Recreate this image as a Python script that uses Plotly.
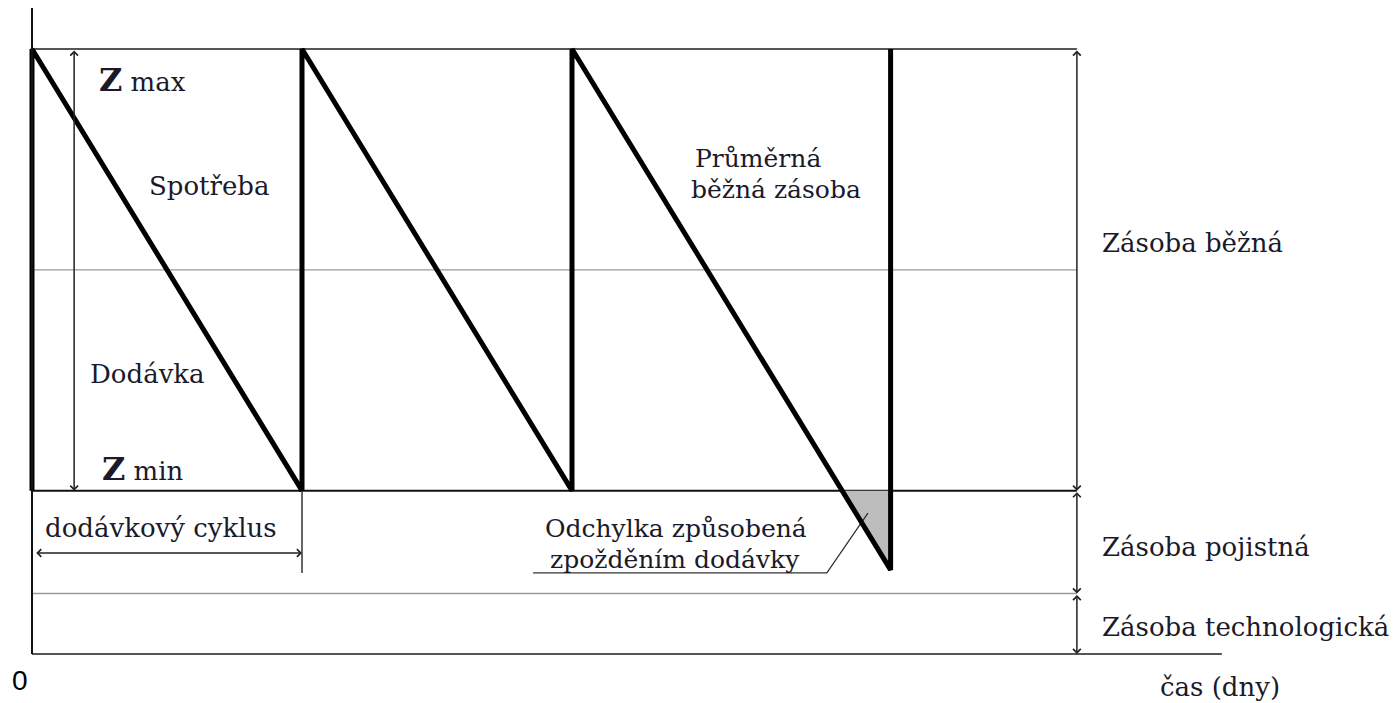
import plotly.graph_objects as go

# úrovně zásob (jednotky)
Z_TECH = 10
Z_MIN = 27
Z_AVG = 63.5
Z_MAX = 100

# pilový průběh zásoby: čas (dny) a stav zásoby
saw_t = [0, 0, 10, 10, 20, 20, 31.8, 31.8]
saw_z = [Z_MIN, Z_MAX, Z_MIN, Z_MAX, Z_MIN, Z_MAX, 13.9, Z_MAX]

# odchylka způsobená zpožděním dodávky
odch_t = [30, 31.8, 31.8, 30]
odch_z = [Z_MIN, Z_MIN, 13.9, Z_MIN]

# odkazová čára popisku odchylky
leader_t = [30.96, 29.44, 18.56]
leader_z = [23.3, 13.4, 13.4]

CYCLE_END = 10
RIGHT_T = 38.7
AXIS_END_T = 44.07
AXIS_TOP = 106.8

FONT = "DejaVu Serif"
TXT = "#1a1a2a"

fig = go.Figure()

# šedý trojúhelník odchylky
fig.add_trace(go.Scatter(x=odch_t, y=odch_z, mode="lines", fill="toself",
                         fillcolor="#bdbdbd", line=dict(width=0), hoverinfo="skip"))

# vodorovné čáry
hlines = [
    (Z_MAX, "#555555", 2),
    (Z_AVG, "#9a9a9a", 1.3),
    (Z_MIN, "#111111", 2),
    (Z_TECH, "#9a9a9a", 1.3),
]
for lvl, col, w in hlines:
    fig.add_shape(type="line", xref="x", yref="y", x0=0, x1=RIGHT_T, y0=lvl, y1=lvl,
                  line=dict(color=col, width=w), layer="below")

# osy
fig.add_shape(type="line", xref="x", yref="y", x0=0, x1=AXIS_END_T, y0=0, y1=0,
              line=dict(color="#555555", width=2))
fig.add_shape(type="line", xref="x", yref="y", x0=0, x1=0, y0=0, y1=AXIS_TOP,
              line=dict(color="#111111", width=2))

# konec dodávkového cyklu
fig.add_shape(type="line", xref="x", yref="y", x0=CYCLE_END, x1=CYCLE_END, y0=13.4, y1=Z_MIN,
              line=dict(color="#333333", width=1.5))

# odkazová čára
fig.add_trace(go.Scatter(x=leader_t, y=leader_z, mode="lines",
                         line=dict(color="#333333", width=1.3), hoverinfo="skip"))

# pilový průběh
fig.add_trace(go.Scatter(x=saw_t, y=saw_z, mode="lines",
                         line=dict(color="black", width=5), hoverinfo="skip"))


def arrow(x0, y0, x1, y1):
    fig.add_annotation(x=x1, y=y1, ax=x0, ay=y0, xref="x", yref="y", axref="x", ayref="y",
                       showarrow=True, arrowhead=4, startarrowhead=4, arrowside="end+start",
                       arrowsize=1, startarrowsize=1, arrowwidth=1.5, arrowcolor="#222222",
                       standoff=0, startstandoff=0, text="")


# šipky
arrow(1.56, Z_MAX, 1.56, Z_MIN)
arrow(RIGHT_T, Z_MAX, RIGHT_T, Z_MIN)
arrow(RIGHT_T, Z_MIN, RIGHT_T, Z_TECH)
arrow(RIGHT_T, Z_TECH, RIGHT_T, 0)
arrow(0.1, 16.7, CYCLE_END, 16.7)


def label(x, y, text, size=26, anchor="center", family=FONT, color=TXT):
    fig.add_annotation(x=x, y=y, xref="x", yref="y", text=text, showarrow=False,
                       xanchor=anchor, yanchor="middle",
                       font=dict(family=family, size=size, color=color))


label(4.11, 94.9, "<b><span style='font-size:32px'>Z</span></b> max")
label(6.56, 77.4, "Spotřeba")
label(4.26, 46.3, "Dodávka")
label(4.11, 30.6, "<b><span style='font-size:32px'>Z</span></b> min")
label(26.9, 81.9, "Průměrná", size=25)
label(27.56, 76.7, "běžná zásoba", size=25)
label(4.78, 20.8, "dodávkový cyklus")
label(23.85, 20.7, "Odchylka způsobená", size=25)
label(23.8, 15.7, "zpožděním dodávky", size=25)
label(39.56, 67.9, "Zásoba běžná", anchor="left")
label(39.56, 17.7, "Zásoba pojistná", anchor="left")
label(39.56, 4.46, "Zásoba technologická", anchor="left")
label(41.7, -5.45, "čas (dny)", anchor="left")
label(-0.44, -4.3, "0", size=28, family="Liberation Sans", color="black")

# stránka má výchozí okraj 8 px, graf je proto o 8 px menší
fig.update_layout(
    width=1390,
    height=695,
    margin=dict(l=0, r=0, t=0, b=0),
    plot_bgcolor="white",
    paper_bgcolor="white",
    showlegend=False,
    xaxis=dict(range=[-24 / 27, 1366 / 27], visible=False, fixedrange=True),
    yaxis=dict(range=[-49 / 6.05, 646 / 6.05], visible=False, fixedrange=True),
)

fig.write_html("out.html")
